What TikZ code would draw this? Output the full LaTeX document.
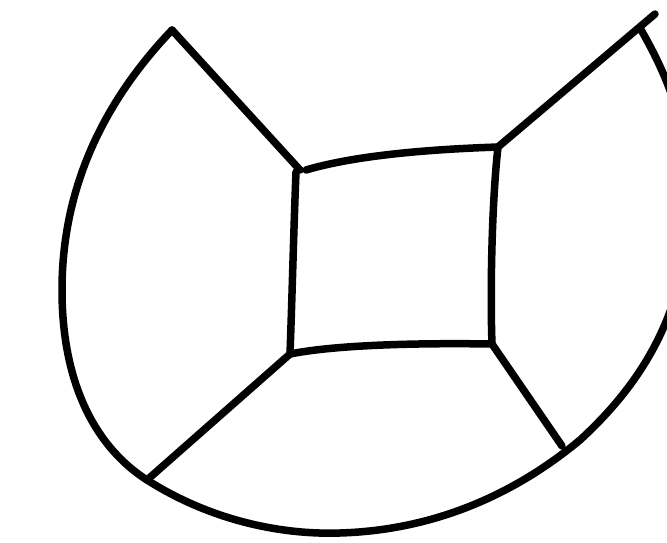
\documentclass[tikz,border=0pt]{standalone}
\begin{document}
\begin{tikzpicture}[x=1pt,y=-1pt,
  stroke/.style={line width=7.5pt,line cap=round,line join=round,black}]
\useasboundingbox (0,0) rectangle (667,543);
\fill[white] (0,0) rectangle (667,543);
\clip (0,0) rectangle (667,543);
% corners
\coordinate (apexL) at (172,30);
\coordinate (apexR) at (655,14);
\coordinate (TL) at (300,170);
\coordinate (TR) at (498,147);
\coordinate (BR) at (492,344);
\coordinate (BL) at (290,354);
\coordinate (footL) at (147,480);
\coordinate (footR) at (562,446);
% outer curve
\draw[stroke] (apexL) .. controls (110,95) and (62,180) .. (62,290)
  .. controls (62,390) and (100,450) .. (footL)
  .. controls (210,520) and (280,535) .. (340,533)
  .. controls (440,530) and (520,490) .. (580,440)
  .. controls (640,385) and (680,320) .. (688,230)
  .. controls (695,140) and (670,80) .. (640,28);
% spokes
\draw[stroke] (apexL) -- (TL);
\draw[stroke] (TR) -- (apexR);
\draw[stroke] (BL) -- (footL);
\draw[stroke] (BR) -- (footR);
% inner square
\draw[stroke] (306,170) .. controls (360,154) and (440,149) .. (TR);
\draw[stroke] (TR) .. controls (492,200) and (490,290) .. (BR);
\draw[stroke] (BR) .. controls (430,343) and (340,344) .. (BL);
\draw[stroke] (BL) .. controls (292,300) and (294,220) .. (296,172);
\end{tikzpicture}
\end{document}
